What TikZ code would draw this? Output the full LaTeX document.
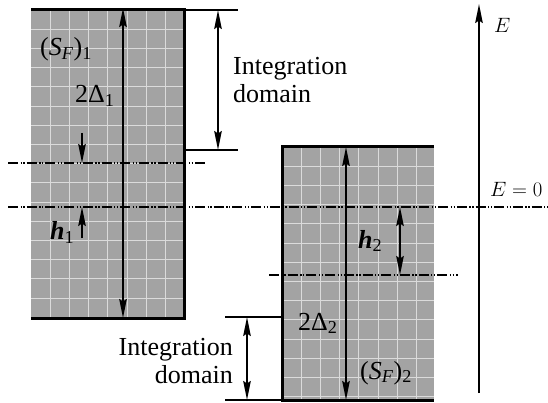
\documentclass[tikz,border=0pt]{standalone}
\usepackage{fontspec}
\setmainfont{Liberation Serif}
\newfontfamily\labelserif{Liberation Serif}
\usetikzlibrary{arrows.meta}
\tikzset{
  >={Stealth[length=19pt,width=7.5pt,inset=2.5pt]},
  band/.style={fill=black!36},
  gridline/.style={draw=black!14,line width=0.9pt},
  edge/.style={line width=3pt},
  dimline/.style={line width=1.8pt},
  thinline/.style={line width=1.2pt},
  level/.style={line width=1.5pt,dash pattern=on 10pt off 2.5pt on 1.3pt off 1.6pt on 1.3pt off 2pt},
  lbl/.style={inner sep=0pt,font=\labelserif\fontsize{26}{30}\selectfont},
  mlbl/.style={inner sep=0pt,font=\fontsize{21}{25}\selectfont}
}
\begin{document}
\begin{tikzpicture}[x=1pt,y=-1pt]
\useasboundingbox (0,0) rectangle (548,403);

% ---- band 1 ----
\fill[band] (31,10) rectangle (184,318);
\foreach \i in {1,...,7} \draw[gridline] ({31+19.2*\i},10) -- ({31+19.2*\i},318);
\foreach \j in {1,...,15} \draw[gridline] (31,{10+19.2*\j}) -- (184,{10+19.2*\j});

% ---- band 2 ----
\fill[band] (282,147) rectangle (434,400);
\foreach \i in {1,...,7} \draw[gridline] ({282+19.2*\i},147) -- ({282+19.2*\i},400);
\foreach \j in {1,...,13} \draw[gridline] (282,{147+19.2*\j}) -- (434,{147+19.2*\j});

% ---- key points ----
\coordinate (b1tl) at (31,10);   \coordinate (b1tr) at (184,10);
\coordinate (b1br) at (184,318); \coordinate (b1bl) at (31,318);
\coordinate (b2tl) at (282,147); \coordinate (b2tr) at (434,147);
\coordinate (b2bl) at (282,400); \coordinate (b2br) at (434,400);

\coordinate (f1a) at (8,163);   \coordinate (f1b) at (205,163);
\coordinate (e0a) at (8,207);   \coordinate (e0b) at (548,207);
\coordinate (f2a) at (269,275); \coordinate (f2b) at (458,275);

% ---- levels ----
\draw[level] (f1a) -- (f1b);
\draw[level] (e0a) -- (e0b);
\draw[level] (f2a) -- (f2b);

% ---- band edges ----
\draw[edge] (b1tl) -- (b1tr) -- (b1br) -- (b1bl);
\draw[edge] (b2tr) -- (b2tl) -- (b2bl) -- (b2br);

% ---- integration domain 1 ----
\coordinate (i1t) at (238,10);  \coordinate (i1b) at (238,150);
\coordinate (i1bs) at (184,150);
\coordinate (a1t) at (218,10);  \coordinate (a1b) at (218,150);
\draw[thinline] (b1tr) -- (i1t);
\draw[thinline] (i1bs) -- (i1b);
\draw[dimline,<->] (a1t) -- (a1b);

% ---- integration domain 2 ----
\coordinate (i2t) at (225,317); \coordinate (i2ts) at (282,317);
\coordinate (i2b) at (225,400);
\coordinate (a2t) at (247,317); \coordinate (a2b) at (247,400);
\draw[thinline] (i2t) -- (i2ts);
\draw[thinline] (i2b) -- (b2bl);
\draw[dimline,<->] (a2t) -- (a2b);

% ---- band widths ----
\coordinate (d1t) at (123,8);  \coordinate (d1b) at (123,318);
\draw[dimline,<->] (d1t) -- (d1b);
\coordinate (d2t) at (346,147); \coordinate (d2b) at (346,400);
\draw[dimline,<->] (d2t) -- (d2b);

% ---- h1 ----
\coordinate (h1u) at (82,133);  \coordinate (h1f) at (82,163);
\coordinate (h1d) at (82,238);  \coordinate (h1e) at (82,207);
\draw[dimline,->] (h1u) -- (h1f);
\draw[dimline,->] (h1d) -- (h1e);

% ---- h2 ----
\coordinate (h2t) at (400,207); \coordinate (h2b) at (400,275);
\draw[dimline,<->] (h2t) -- (h2b);

% ---- energy axis ----
\coordinate (ax0) at (479,393); \coordinate (ax1) at (479,4);
\draw[dimline,->] (ax0) -- (ax1);

% ---- labels ----
\node[lbl,anchor=base west] (sf1) at (40,56) {(\textit{S}\textsubscript{\textit{F}})\textsubscript{1}};
\node[lbl,anchor=base west] (del1) at (75,103) {2Δ\textsubscript{1}};
\node[lbl,anchor=base west] (int1a) at (233,75) {Integration};
\node[lbl,anchor=base west] (int1b) at (233,103) {domain};
\node[lbl,anchor=base east] (int2a) at (233,355) {Integration};
\node[lbl,anchor=base east] (int2b) at (233,383) {domain};
\node[lbl,anchor=base west] (hl1) at (50,240) {\textbf{\textit{h}}\textsubscript{1}};
\node[lbl,anchor=base west] (hl2) at (358,248) {\textbf{\textit{h}}\textsubscript{2}};
\node[lbl,anchor=base west] (del2) at (298,330) {2Δ\textsubscript{2}};
\node[lbl,anchor=base west] (sf2) at (360,379) {(\textit{S}\textsubscript{\textit{F}})\textsubscript{2}};
\node[mlbl,anchor=base west] (elab) at (494,33) {$E$};
\node[mlbl,anchor=base west] (e0lab) at (490,197) {$E=0$};
\end{tikzpicture}
\end{document}
